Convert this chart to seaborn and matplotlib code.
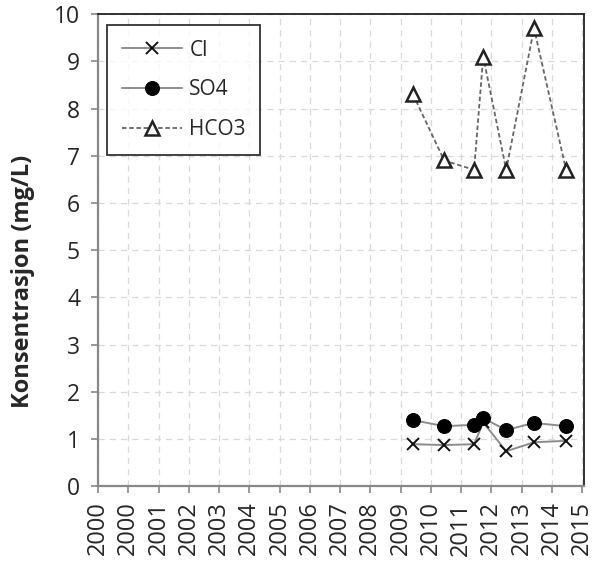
import matplotlib
matplotlib.use("Agg")
import matplotlib.pyplot as plt
import seaborn as sns
import pandas as pd

# sampling dates as decimal years
dates = [2010.41, 2011.44, 2012.43, 2012.73, 2013.49, 2014.41, 2015.47]
cl = [0.89, 0.87, 0.89, 1.35, 0.74, 0.93, 0.96]
so4 = [1.40, 1.27, 1.30, 1.44, 1.19, 1.34, 1.27]
hco3 = [8.3, 6.9, 6.7, 9.1, 6.7, 9.7, 6.7]

tick_pos = list(range(2000, 2017))
tick_labels = ["2000", "2000", "2001", "2002", "2003", "2004", "2005", "2006", "2007",
               "2008", "2009", "2010", "2011", "2012", "2013", "2014", "2015"]

sns.set_theme(style="white")
plt.rcParams['font.family'] = ['Open Sans', 'DejaVu Sans']

fig = plt.figure(figsize=(5.98, 5.64), dpi=100)
ax = fig.add_axes([0.164, 0.138, 0.813, 0.837])

df = pd.DataFrame({"date": dates, "Cl": cl, "SO4": so4, "HCO3": hco3})

sns.lineplot(data=df, x="date", y="Cl", ax=ax, estimator=None, sort=False,
             color="#8c8c8c", lw=1.4, marker="x", markersize=9,
             markeredgecolor="#111111", markeredgewidth=1.4, label="Cl", zorder=3)
sns.lineplot(data=df, x="date", y="SO4", ax=ax, estimator=None, sort=False,
             color="#8c8c8c", lw=1.4, marker="o", markersize=10,
             markerfacecolor="black", markeredgecolor="black", label="SO4", zorder=4)
sns.lineplot(data=df, x="date", y="HCO3", ax=ax, estimator=None, sort=False,
             color="#666666", lw=1.3, linestyle=(0, (2.5, 1.5)), marker="^", markersize=10,
             markerfacecolor="white", markeredgecolor="#222222", markeredgewidth=1.8,
             label="HCO3", zorder=5)

ax.set_xlim(2000, 2016.07)
ax.set_ylim(0, 10)
ax.set_xticks(tick_pos)
ax.set_xticklabels(tick_labels, rotation=90, fontsize=17)
ax.set_yticks(range(0, 11))
ax.set_yticklabels([str(i) for i in range(0, 11)], fontsize=16.5)
ax.set_xlabel("")
ax.set_ylabel("Konsentrasjon (mg/L)", fontsize=17, fontweight="bold")
ax.yaxis.set_label_coords(-0.13, 0.434)

ax.grid(True, which="major", linestyle=(0, (5, 4)), color="#d9d9d9", lw=0.9)
ax.set_axisbelow(True)

ax.tick_params(axis="both", which="major", direction="out", length=5, width=1.2,
               color="#888888", bottom=True, left=True)
ax.tick_params(axis="x", pad=6)
ax.tick_params(axis="y", pad=8)

for s in ["top", "right"]:
    ax.spines[s].set_color("#222222")
    ax.spines[s].set_linewidth(1.3)
for s in ["left", "bottom"]:
    ax.spines[s].set_color("#888888")
    ax.spines[s].set_linewidth(1.6)

leg = ax.legend(loc="upper left", bbox_to_anchor=(0.0185, 0.977), borderaxespad=0,
                fontsize=15, frameon=True, fancybox=False, edgecolor="black",
                borderpad=0.7, labelspacing=0.9, handlelength=2.9, handletextpad=0.35)
leg.get_frame().set_linewidth(1.3)

fig.savefig("out.png", dpi=100, facecolor="white")
